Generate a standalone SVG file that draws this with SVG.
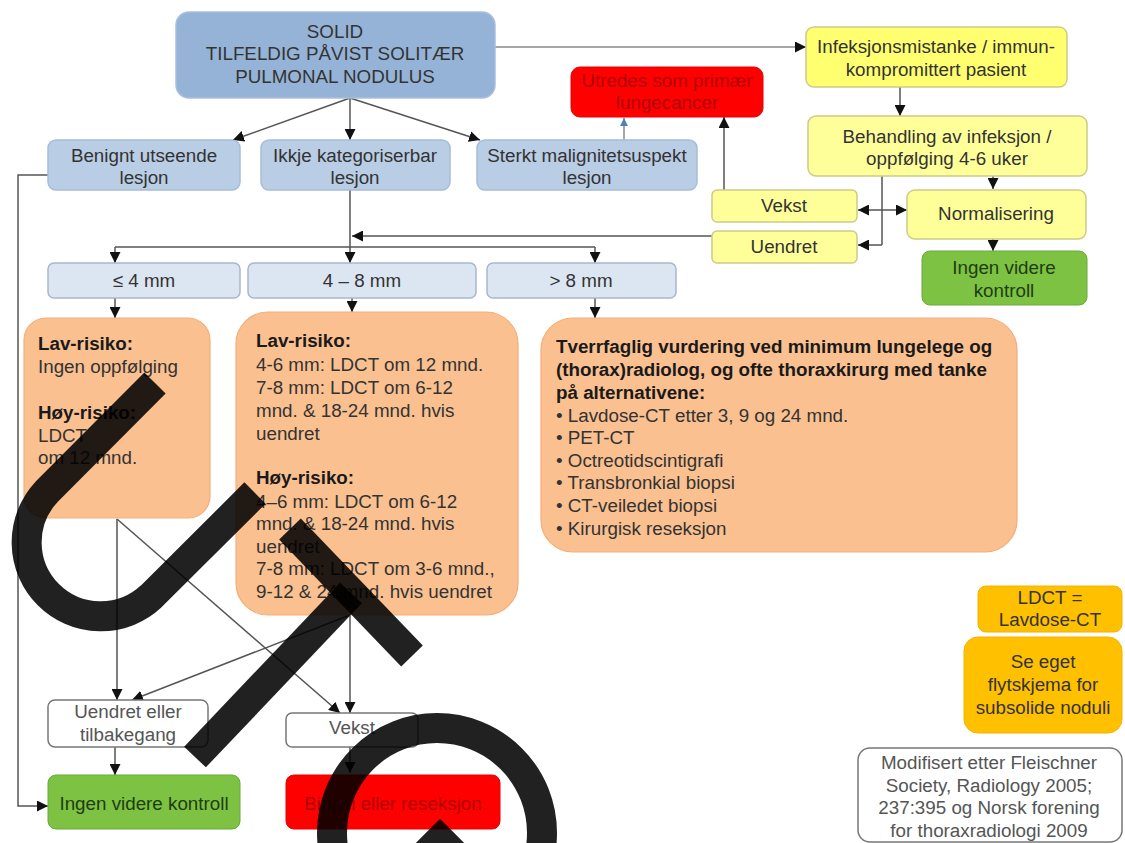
<svg xmlns="http://www.w3.org/2000/svg" width="1125" height="843" viewBox="0 0 1125 843">
<defs>
<marker id="ah" viewBox="0 0 10 10" refX="10" refY="5" markerWidth="11" markerHeight="11" markerUnits="userSpaceOnUse" orient="auto"><path d="M0,0 L10,5 L0,10 z" fill="#111"/></marker>
<marker id="ahb" viewBox="0 0 10 10" refX="10" refY="5" markerWidth="8" markerHeight="8" markerUnits="userSpaceOnUse" orient="auto"><path d="M0,0 L10,5 L0,10 z" fill="#4f81bd"/></marker>
<style>
text{font-family:"Liberation Sans",Arial,sans-serif;font-size:18.8px;fill:#333}
.c{text-anchor:middle}
.b{font-weight:bold;fill:#1a1a1a}
.blue1{fill:#95b3d7;stroke:#a9bfdc;stroke-width:1.5}
.blue2{fill:#b9cde5;stroke:#a6bcd8;stroke-width:1.5}
.blue3{fill:#dce6f2;stroke:#a8b8cc;stroke-width:1.5}
.org{fill:#fac090;stroke:#f5ad78;stroke-width:1.2}
.red{fill:#ff0000;stroke:#e60000;stroke-width:1}
.yel1{fill:#ffff70;stroke:#cccc88;stroke-width:1.5}
.yel2{fill:#ffff99;stroke:#cccc88;stroke-width:1.5}
.grn{fill:#7dc242;stroke:#6aaa38;stroke-width:1}
.gold{fill:#ffc000;stroke:#f0b400;stroke-width:1}
.wht{fill:#fff;stroke:#777;stroke-width:1.5}
.rt{fill:#b00000}
.gt{fill:#1f3d12}
.wt{fill:#555}
.ln{fill:none;stroke:#555;stroke-width:1.5;marker-end:url(#ah)}
.ln0{fill:none;stroke:#555;stroke-width:1.5}
.ov{fill:none;stroke:#000;stroke-opacity:0.87;stroke-width:30;stroke-linecap:butt}
</style>
</defs>
<rect width="1125" height="843" fill="#fff"/>
<g id="connectors">
<path class="ln" d="M495,47 H806" style="stroke:#8a8a8a"/>
<path class="ln" d="M350,98 L233,140"/>
<path class="ln" d="M350,98 V140"/>
<path class="ln" d="M350,98 L480,140"/>
<path class="ln" d="M48,175 H18 V806 H48"/>
<path class="ln" d="M350,190 V263"/>
<path class="ln0" d="M115,247 H595"/>
<path class="ln" d="M115,247 V263"/>
<path class="ln" d="M595,247 V263"/>
<path class="ln" d="M712,236 H352"/>
<path class="ln" d="M624,140 V118" style="stroke:#8a8a8a;marker-end:url(#ahb)"/>
<path class="ln" d="M724,190 V117"/>
<path class="ln" d="M900,87 V116"/>
<path class="ln0" d="M882,176 V245"/>
<path class="ln" d="M882,210 H858"/>
<path class="ln" d="M882,210 H907"/>
<path class="ln" d="M882,245 H858"/>
<path class="ln" d="M993,176 V189"/>
<path class="ln" d="M993,238 V251"/>
<path class="ln" d="M115,298 V318"/>
<path class="ln" d="M352,298 V312"/>
<path class="ln" d="M595,298 V318"/>
<path class="ln" d="M117,519 V700"/>
<path class="ln" d="M117,519 L340,713"/>
<path class="ln" d="M350,615 V713"/>
<path class="ln" d="M350,615 L132,700"/>
<path class="ln" d="M115,747 V775"/>
<path class="ln" d="M350,747 V773"/>
</g>
<g id="n-solid"><rect class="blue1" x="176" y="12" width="319" height="86" rx="13"/>
<text class="c" x="335" y="37.5">SOLID</text><text class="c" x="335" y="60">TILFELDIG PÅVIST SOLITÆR</text><text class="c" x="335" y="82.5">PULMONAL NODULUS</text></g>
<g id="n-benign"><rect class="blue2" x="48" y="140" width="192" height="50" rx="8"/>
<text class="c" x="144" y="161.5">Benignt utseende</text><text class="c" x="144" y="183.5">lesjon</text></g>
<g id="n-ikkje"><rect class="blue2" x="261" y="140" width="189" height="50" rx="8"/>
<text class="c" x="355" y="161.5">Ikkje kategoriserbar</text><text class="c" x="355" y="183.5">lesjon</text></g>
<g id="n-sterkt"><rect class="blue2" x="477" y="140" width="220" height="50" rx="8"/>
<text class="c" x="587" y="161.5">Sterkt malignitetsuspekt</text><text class="c" x="587" y="183.5">lesjon</text></g>
<g id="n-utredes"><rect class="red" x="571" y="67" width="192" height="50" rx="9"/>
<text class="c rt" x="667" y="87">Utredes som primær</text><text class="c rt" x="667" y="109">lungecancer</text></g>
<g id="n-infeksjon"><rect class="yel1" x="806" y="27" width="261" height="60" rx="8"/>
<text class="c" x="936" y="53">Infeksjonsmistanke /  immun-</text><text class="c" x="936" y="76">kompromittert pasient</text></g>
<g id="n-behandling"><rect class="yel2" x="808" y="116" width="279" height="60" rx="8"/>
<text class="c" x="947" y="143">Behandling  av infeksjon /</text><text class="c" x="947" y="165">oppfølging 4-6 uker</text></g>
<g id="n-vekst1"><rect class="yel2" x="712" y="190" width="145" height="32" rx="5"/>
<text class="c" x="784" y="212">Vekst</text></g>
<g id="n-uendret1"><rect class="yel2" x="712" y="231" width="145" height="32" rx="5"/>
<text class="c" x="784" y="253">Uendret</text></g>
<g id="n-normal"><rect class="yel2" x="907" y="190" width="179" height="49" rx="8"/>
<text class="c" x="996" y="220">Normalisering</text></g>
<g id="n-ingen1"><rect class="grn" x="922" y="251" width="165" height="54" rx="8"/>
<text class="c gt" x="1004" y="274">Ingen videre</text><text class="c gt" x="1004" y="297">kontroll</text></g>
<g id="n-s4"><rect class="blue3" x="48" y="263" width="192" height="35" rx="6"/><text class="c" x="144" y="287">≤ 4 mm</text></g>
<g id="n-s48"><rect class="blue3" x="248" y="263" width="228" height="35" rx="6"/><text class="c" x="362" y="287">4 – 8 mm</text></g>
<g id="n-s8"><rect class="blue3" x="487" y="263" width="189" height="35" rx="6"/><text class="c" x="581" y="287">&gt; 8 mm</text></g>
<g id="n-o1"><rect class="org" x="24" y="318" width="186" height="200" rx="22"/>
<text class="b" x="38" y="349.5">Lav-risiko:</text><text x="38" y="373">Ingen oppfølging</text>
<text class="b" x="38" y="418.5">Høy-risiko:</text><text x="38" y="441.5">LDCT</text><text x="38" y="463.5">om 12 mnd.</text></g>
<g id="n-o2"><rect class="org" x="236" y="312" width="282" height="303" rx="32"/>
<text class="b" x="256" y="347">Lav-risiko:</text>
<text x="256" y="370.5">4-6 mm: LDCT om 12 mnd.</text>
<text x="256" y="393.5">7-8 mm: LDCT om 6-12</text>
<text x="256" y="416.5">mnd. &amp; 18-24 mnd. hvis</text>
<text x="256" y="439.5">uendret</text>
<text class="b" x="256" y="484">Høy-risiko:</text>
<text x="256" y="507.5">4–6 mm: LDCT om 6-12</text>
<text x="256" y="530">mnd. &amp; 18-24 mnd. hvis</text>
<text x="256" y="552.5">uendret</text>
<text x="256" y="575">7-8 mm: LDCT om 3-6 mnd.,</text>
<text x="256" y="597.5">9-12 &amp; 24 mnd. hvis uendret</text></g>
<g id="n-o3"><rect class="org" x="541" y="318" width="476" height="234" rx="32"/>
<text class="b" x="556" y="353">Tverrfaglig vurdering ved minimum lungelege og</text>
<text class="b" x="556" y="376">(thorax)radiolog, og ofte thoraxkirurg med tanke</text>
<text class="b" x="556" y="399">på alternativene:</text>
<text x="556" y="421.5">• Lavdose-CT etter 3, 9 og 24 mnd.</text>
<text x="556" y="443.5">• PET-CT</text>
<text x="556" y="466.5">• Octreotidscintigrafi</text>
<text x="556" y="488.5">• Transbronkial biopsi</text>
<text x="556" y="511.5">• CT-veiledet biopsi</text>
<text x="556" y="534.5">• Kirurgisk reseksjon</text></g>
<g id="n-uendret2"><rect class="wht" x="48" y="700" width="160" height="47" rx="7"/>
<text class="c wt" x="128" y="718">Uendret eller</text><text class="c wt" x="128" y="741">tilbakegang</text></g>
<g id="n-vekst2"><rect class="wht" x="286" y="713" width="132" height="34" rx="6"/>
<text class="c wt" x="352" y="734">Vekst</text></g>
<g id="n-ingen2"><rect class="grn" x="48" y="775" width="192" height="54" rx="8"/>
<text class="c gt" x="144" y="809.5">Ingen videre kontroll</text></g>
<g id="n-biopsi"><rect class="red" x="286" y="775" width="214" height="54" rx="8"/>
<text class="c rt" x="393" y="809.5">Biopsi eller reseksjon</text></g>
<g id="n-ldct"><rect class="gold" x="978" y="586" width="144" height="46" rx="8"/>
<text class="c" x="1050" y="604">LDCT =</text><text class="c" x="1050" y="626">Lavdose-CT</text></g>
<g id="n-se"><rect class="gold" x="964" y="637" width="158" height="96" rx="14"/>
<text class="c" x="1043" y="668">Se eget</text><text class="c" x="1043" y="691">flytskjema for</text><text class="c" x="1043" y="714">subsolide noduli</text></g>
<g id="n-ref"><rect class="wht" x="858" y="748" width="264" height="94" rx="12"/>
<text class="c wt" x="989" y="769">Modifisert etter Fleischner</text><text class="c wt" x="989" y="792">Society, Radiology 2005;</text><text class="c wt" x="989" y="814">237:395 og Norsk forening</text><text class="c wt" x="989" y="837">for thoraxradiologi 2009</text></g>
<g id="overlay">
<path class="ov" d="M155,383 L46.7,491.7 A74,74 0 0 0 151.3,596.3 L255,493"/>
<path class="ov" d="M290,529 L412,656"/>
<path class="ov" d="M351,593 L195,757"/>
<circle class="ov" cx="437" cy="833" r="105"/>
<path class="ov" d="M412,868 L440,840 L468,868"/>
</g>
</svg>
